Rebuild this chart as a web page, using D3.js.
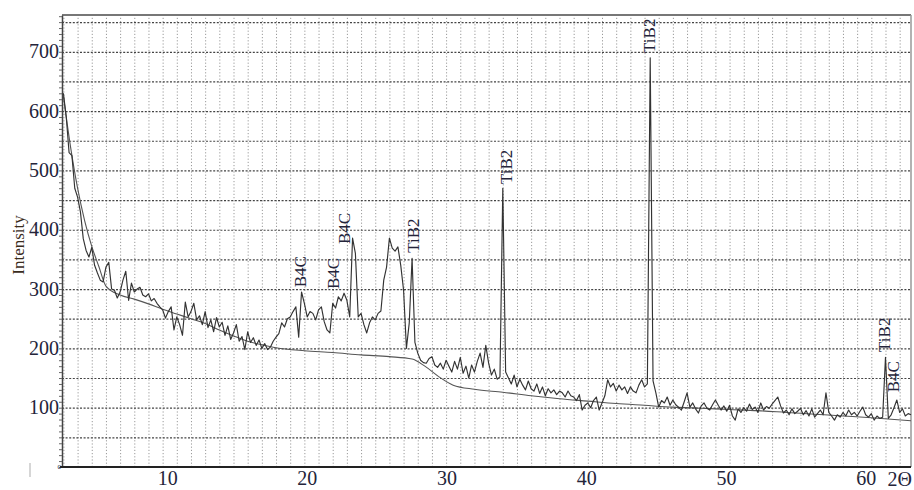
<!DOCTYPE html>
<html>
<head>
<meta charset="utf-8">
<script src="https://cdn.jsdelivr.net/npm/d3@7"></script>
<style>
  html, body { margin: 0; padding: 0; background: #fff; }
  svg { display: block; }
  text { font-family: "Liberation Serif", "DejaVu Serif", serif; fill: #24243a; }
</style>
</head>
<body>
<svg id="chart" width="914" height="490"></svg>
<script>
// X-ray diffraction scan: 2θ from 3.0° to 62.8° in 0.2° steps
const scanStart = 3.0;
const scanStep = 0.2;
const intensity = [
  630, 590, 530, 525, 470, 455, 430, 385, 365, 354,
  370, 340, 327, 315, 312, 337, 345, 300, 298, 285,
  295, 315, 330, 281, 310, 295, 300, 303, 290, 287,
  292, 280, 284, 276, 270, 265, 251, 262, 270, 231,
  253, 240, 222, 278, 253, 262, 276, 248, 255, 240,
  262, 235, 248, 228, 252, 236, 244, 222, 238, 215,
  226, 240, 212, 220, 198, 228, 210, 218, 205, 214,
  200, 208, 198, 202, 212, 219, 225, 243, 236, 250,
  253, 262, 270, 219, 295, 276, 253, 262, 259, 248,
  265, 270, 245, 231, 226, 276, 268, 287, 280, 293,
  281, 253, 386, 360, 253, 259, 240, 226, 243, 253,
  248, 259, 263, 315, 337, 386, 369, 364, 371, 340,
  298, 200, 243, 352, 210, 192, 180, 176, 175, 183,
  186, 172, 168, 175, 165, 180, 170, 160, 178, 165,
  185, 158, 170, 150, 172, 160, 178, 192, 168, 205,
  175, 155, 165, 148, 152, 470, 160, 150, 140, 155,
  135, 148, 138, 130, 145, 132, 128, 140, 124, 135,
  120, 132, 125, 130, 122, 128, 125, 118, 128, 120,
  118, 112, 122, 96, 104, 108, 100, 112, 118, 96,
  108, 120, 147, 135, 141, 128, 138, 130, 135, 124,
  135, 128, 125, 138, 147, 135, 140, 690, 145, 125,
  101, 112, 108, 118, 104, 113, 105, 101, 96, 110,
  125, 101, 108, 98, 91, 103, 108, 99, 96, 105,
  113, 104, 96, 103, 94, 104, 86, 79, 98, 92,
  100, 94, 106, 97, 101, 92, 108, 96, 102, 99,
  106, 112, 118, 103, 91, 96, 88, 98, 90, 94,
  99, 88, 95, 86, 98, 84, 90, 96, 88, 125,
  92, 86, 79, 88, 84, 92, 86, 96, 88, 92,
  86, 94, 101, 88, 84, 90, 79, 86, 82, 84,
  185, 82, 88, 100, 113, 92, 98, 86, 90, 88
];
const twoTheta = intensity.map((_, i) => +(scanStart + i * scanStep).toFixed(1));

// Fitted background under the pattern
const backgroundAngle = [3, 3.5, 4, 4.5, 5, 5.5, 6, 7, 8, 9, 10, 11, 12, 13, 14, 15, 16, 17, 18, 20,
  22, 24, 26, 27.6, 28.5, 29.5, 30.5, 32, 34, 36, 38, 40, 42, 44, 46, 48, 50, 52, 54, 56, 58, 60, 62.8];
const backgroundValue = [625, 540, 470, 415, 372, 338, 305, 290, 283, 275, 266, 258, 250, 242, 231, 221, 212, 206, 201, 196,
  193, 189, 186, 182, 170, 152, 138, 131, 126, 120, 115, 111, 107, 104, 101, 99, 97, 95, 92, 89, 86, 83, 78];

// Phase identification labels: text, 2θ, intensity at the foot of the label
const peakNames = ["B4C", "B4C", "B4C", "TiB2", "TiB2", "TiB2", "TiB2", "B4C"];
const peakAngles = [19.7, 22.0, 22.8, 27.7, 34.2, 44.3, 60.9, 61.5];
const peakLabelBase = [303, 300, 376, 361, 477, 698, 194, 126];

const xTickValues = [10, 20, 30, 40, 50, 60];
const yTickValues = [100, 200, 300, 400, 500, 600, 700];

const svg = d3.select("#chart");
const margin = { top: 15, right: 3, bottom: 23, left: 62 };
const W = 914, H = 490;
const iw = W - margin.left - margin.right;
const ih = H - margin.top - margin.bottom;

const x = d3.scaleLinear().domain([2.9, 62.8]).range([margin.left, W - margin.right]);
const y = d3.scaleLinear().domain([0, 762]).range([H - margin.bottom, margin.top]);

// Vertical grid: one dotted line per degree
svg.append("g")
  .attr("transform", `translate(0,${H - margin.bottom})`)
  .call(d3.axisBottom(x).tickValues(d3.range(3, 63)).tickSize(-ih).tickFormat(""))
  .call(g => g.select(".domain").remove())
  .call(g => g.selectAll("line")
    .attr("stroke", "#9a9a9a").attr("stroke-width", 1).attr("stroke-dasharray", "1.2,2"));

// Horizontal grid every 50 counts
svg.append("g")
  .attr("transform", `translate(${margin.left},0)`)
  .call(d3.axisLeft(y).tickValues(d3.range(50, 751, 50)).tickSize(-iw).tickFormat(""))
  .call(g => g.select(".domain").remove())
  .call(g => g.selectAll("line")
    .attr("stroke", "#444").attr("stroke-width", 1.2).attr("stroke-dasharray", "2,1.6"));

// Frame
svg.append("line").attr("x1", margin.left).attr("x2", W - margin.right)
  .attr("y1", margin.top).attr("y2", margin.top).attr("stroke", "#777").attr("stroke-width", 2);
svg.append("line").attr("x1", W - margin.right).attr("x2", W - margin.right)
  .attr("y1", margin.top).attr("y2", H - margin.bottom).attr("stroke", "#999").attr("stroke-width", 1.5);

// Left axis with minor ticks every 10 counts
svg.append("g")
  .attr("transform", `translate(${margin.left},0)`)
  .call(d3.axisLeft(y).tickValues(d3.range(0, 761, 10)).tickSize(3).tickSizeOuter(0).tickFormat(""))
  .call(g => g.select(".domain").attr("stroke", "#444").attr("stroke-width", 1.5))
  .call(g => g.selectAll("line").attr("stroke", "#666"));

// Bottom axis line
svg.append("line").attr("x1", margin.left - 2).attr("x2", W - margin.right)
  .attr("y1", H - margin.bottom).attr("y2", H - margin.bottom)
  .attr("stroke", "#222").attr("stroke-width", 2.2);

// Y tick labels
svg.append("g").selectAll("text").data(yTickValues).join("text")
  .attr("x", margin.left - 3).attr("y", d => y(d)).attr("dy", "0.33em")
  .attr("text-anchor", "end").attr("font-size", 20).text(d => d);
svg.append("text").attr("x", margin.left - 1).attr("y", y(0)).attr("dy", "0.33em")
  .attr("text-anchor", "end").attr("font-size", 7).text("0");

// X tick labels (printed slightly spread relative to the ticks)
svg.append("g").selectAll("text").data(xTickValues).join("text")
  .attr("x", d => x(d) - (d - 35) * 0.2).attr("y", 485)
  .attr("text-anchor", "middle").attr("font-size", 20).text(d => d);
svg.append("line").attr("x1", x(59.1)).attr("x2", x(59.1)).attr("y1", 472).attr("y2", 477)
  .attr("stroke", "#555").attr("stroke-width", 1);
svg.append("text").attr("x", 912).attr("y", 486).attr("text-anchor", "end")
  .attr("font-size", 20).text("2Θ");

// Axis title
svg.append("text").attr("transform", "translate(24,245) rotate(-90)")
  .attr("text-anchor", "middle").attr("font-size", 17).style("fill", "#3a2c1c").text("Intensity");

// Faint mark near the lower-left corner
svg.append("line").attr("x1", 30).attr("x2", 30).attr("y1", 463).attr("y2", 477)
  .attr("stroke", "#c8c8c8").attr("stroke-width", 1.5);

// Background curve
svg.append("path")
  .datum(backgroundAngle.map((a, i) => [a, backgroundValue[i]]))
  .attr("fill", "none").attr("stroke", "#555").attr("stroke-width", 1.1)
  .attr("d", d3.line().x(d => x(d[0])).y(d => y(d[1])).curve(d3.curveMonotoneX));

// Measured pattern
svg.append("path")
  .datum(twoTheta.map((a, i) => [a, intensity[i]]))
  .attr("fill", "none").attr("stroke", "#333").attr("stroke-width", 1.15).attr("stroke-linejoin", "round")
  .attr("d", d3.line().x(d => x(d[0])).y(d => y(d[1])));

// Phase labels (rotated)
svg.append("g").selectAll("text").data(peakNames).join("text")
  .attr("transform", (d, i) => `translate(${x(peakAngles[i])},${y(peakLabelBase[i])}) rotate(-90)`)
  .attr("dy", "0.35em").attr("font-size", 17).text(d => d);
</script>
</body>
</html>
